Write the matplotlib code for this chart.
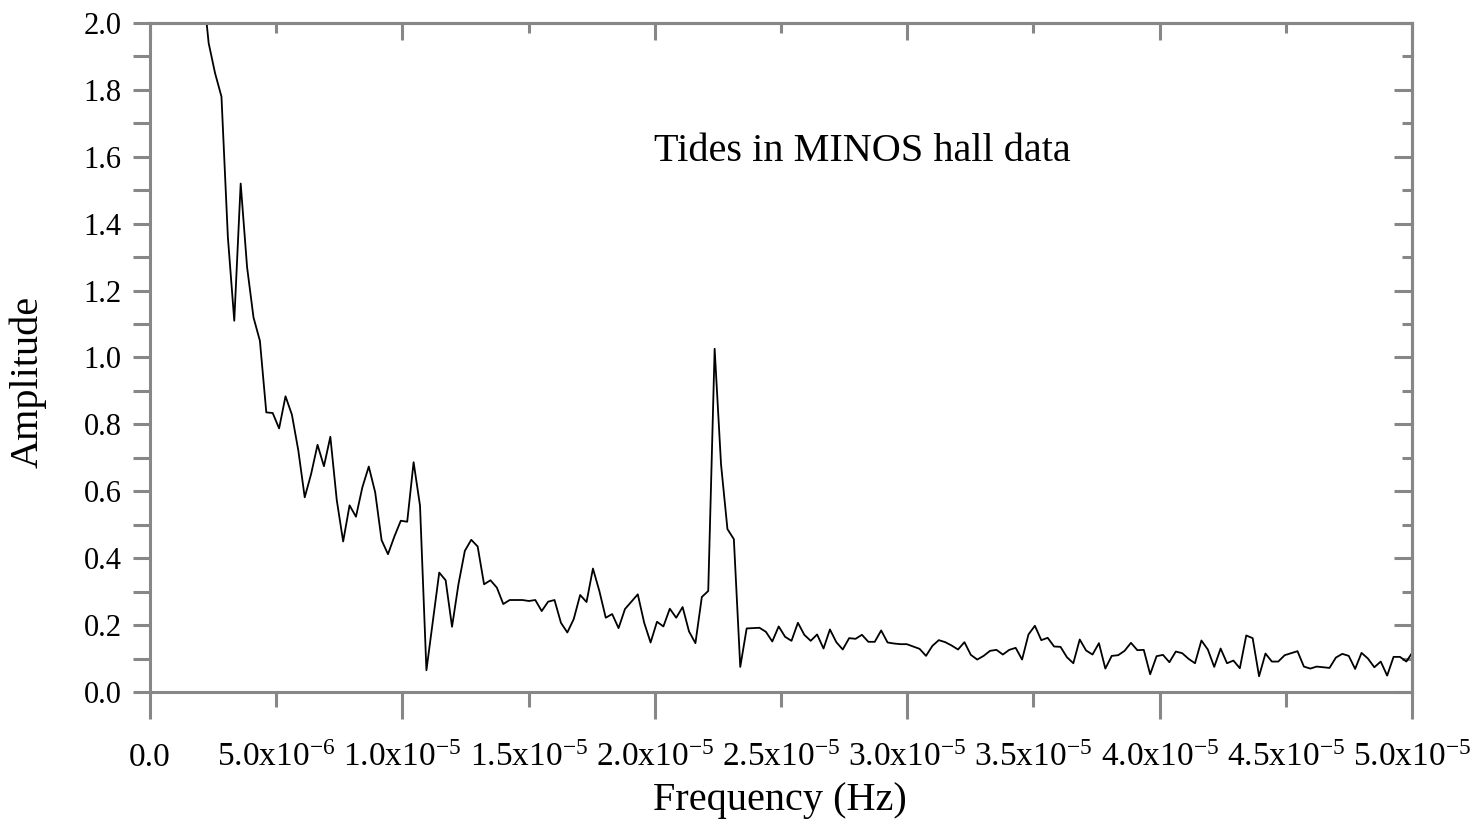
import numpy as np
import matplotlib
matplotlib.use("Agg")
import matplotlib.pyplot as plt
from matplotlib.ticker import MultipleLocator, FixedLocator, FixedFormatter, FormatStrFormatter, NullFormatter

plt.rcParams['font.family'] = ['Liberation Serif', 'DejaVu Serif']
plt.rcParams['mathtext.fontset'] = 'custom'
plt.rcParams['mathtext.rm'] = 'Liberation Serif'
plt.rcParams['mathtext.it'] = 'Liberation Serif:italic'
plt.rcParams['mathtext.bf'] = 'Liberation Serif:bold'

# spectrum: uniform frequency bins, first visible bin ~2.07e-6 Hz
F_START = 2.070e-6
DF = 2.5376e-7
amp = [2.13, 1.94, 1.85, 1.78, 1.36, 1.11, 1.52, 1.27, 1.12, 1.05,
       0.836, 0.834, 0.788, 0.884, 0.829, 0.722, 0.582, 0.652, 0.739, 0.675,
       0.763, 0.574, 0.450, 0.558, 0.524, 0.612, 0.674, 0.597, 0.454, 0.412,
       0.465, 0.512, 0.509, 0.687, 0.557, 0.065, 0.21, 0.357, 0.334, 0.195,
       0.322, 0.422, 0.455, 0.435, 0.322, 0.334, 0.312, 0.263, 0.275, 0.275,
       0.275, 0.272, 0.275, 0.242, 0.270, 0.275, 0.207, 0.178, 0.218, 0.290,
       0.269, 0.369, 0.302, 0.222, 0.233, 0.191, 0.248, 0.270, 0.292, 0.207,
       0.148, 0.210, 0.196, 0.249, 0.222, 0.254, 0.181, 0.146, 0.284, 0.302,
       1.026, 0.68, 0.487, 0.457, 0.075, 0.190, 0.191, 0.192, 0.180, 0.151,
       0.196, 0.165, 0.153, 0.207, 0.171, 0.153, 0.172, 0.130, 0.187, 0.149,
       0.127, 0.161, 0.159, 0.171, 0.150, 0.150, 0.184, 0.148, 0.145, 0.143,
       0.143, 0.136, 0.129, 0.108, 0.138, 0.155, 0.149, 0.139, 0.127, 0.149,
       0.111, 0.097, 0.108, 0.123, 0.126, 0.112, 0.126, 0.132, 0.097, 0.172,
       0.198, 0.155, 0.162, 0.136, 0.135, 0.104, 0.086, 0.157, 0.124, 0.112,
       0.146, 0.070, 0.108, 0.110, 0.123, 0.147, 0.125, 0.126, 0.053, 0.107,
       0.111, 0.089, 0.121, 0.116, 0.099, 0.086, 0.154, 0.127, 0.075, 0.130,
       0.086, 0.094, 0.071, 0.169, 0.161, 0.047, 0.115, 0.091, 0.091, 0.110,
       0.116, 0.122, 0.076, 0.070, 0.076, 0.074, 0.072, 0.103, 0.114, 0.108,
       0.069, 0.117, 0.100, 0.074, 0.091, 0.049, 0.105, 0.105, 0.091, 0.12]
freq = F_START + DF * np.arange(len(amp))

xmajor = [0.0, 1e-5, 2e-5, 3e-5, 4e-5, 5e-5]
xmajor_labels = ["0.0", r"1.0x10$^{-5}$", r"2.0x10$^{-5}$", r"3.0x10$^{-5}$",
                 r"4.0x10$^{-5}$", r"5.0x10$^{-5}$"]
xminor = [5e-6, 1.5e-5, 2.5e-5, 3.5e-5, 4.5e-5]
xminor_labels = [r"5.0x10$^{-6}$", r"1.5x10$^{-5}$", r"2.5x10$^{-5}$",
                 r"3.5x10$^{-5}$", r"4.5x10$^{-5}$"]

gray = '#878787'
lw_ax = 2.2

fig = plt.figure(figsize=(14.78, 8.22), dpi=100)
ax = fig.add_axes([150/1478, 1-692/822, 1262/1478, 669/822])
ax.plot(freq, amp, color='black', lw=1.3)
ax.set_xlim(0, 5e-5)
ax.set_ylim(0, 2.0)

for s in ax.spines.values():
    s.set_color(gray)
    s.set_linewidth(lw_ax)

ax.xaxis.set_major_locator(FixedLocator(xmajor))
ax.xaxis.set_major_formatter(FixedFormatter(xmajor_labels))
ax.xaxis.set_minor_locator(FixedLocator(xminor))
ax.xaxis.set_minor_formatter(FixedFormatter(xminor_labels))
ax.yaxis.set_major_locator(MultipleLocator(0.2))
ax.yaxis.set_minor_locator(MultipleLocator(0.1))
ax.yaxis.set_major_formatter(FormatStrFormatter('%.1f'))

ax.tick_params(axis='x', which='major', direction='out', length=19.4, width=lw_ax,
               color=gray, labelsize=24, pad=17, top=False)
ax.tick_params(axis='x', which='minor', direction='out', length=10.8, width=lw_ax,
               color=gray, labelsize=24, pad=25.6, top=False)
ax.tick_params(axis='y', which='both', direction='out', length=12.6, width=lw_ax,
               color=gray, labelsize=22, pad=8, right=False)

top = ax.secondary_xaxis('top')
top.xaxis.set_major_locator(MultipleLocator(1e-5))
top.xaxis.set_minor_locator(MultipleLocator(5e-6))
top.xaxis.set_major_formatter(NullFormatter())
top.tick_params(which='major', direction='in', length=12.5, width=lw_ax, color=gray)
top.tick_params(which='minor', direction='in', length=7.2, width=lw_ax, color=gray)
top.spines['top'].set_color(gray)
top.spines['top'].set_linewidth(lw_ax)

right = ax.secondary_yaxis('right')
right.yaxis.set_major_locator(MultipleLocator(0.2))
right.yaxis.set_minor_locator(MultipleLocator(0.1))
right.yaxis.set_major_formatter(NullFormatter())
right.tick_params(which='major', direction='in', length=13.3, width=lw_ax, color=gray)
right.tick_params(which='minor', direction='in', length=7.4, width=lw_ax, color=gray)
right.spines['right'].set_color(gray)
right.spines['right'].set_linewidth(lw_ax)

ax.text(0.5645, 0.793, "Tides in MINOS hall data", transform=ax.transAxes,
        ha='center', va='baseline', fontsize=29)
fig.text(780/1478, 1-810/822, "Frequency (Hz)", ha='center', va='baseline', fontsize=29)
fig.text(28/1478, 1-382/822, "Amplitude", ha='center', va='center', rotation=90, fontsize=29)

fig.savefig("out.png", dpi=100)
